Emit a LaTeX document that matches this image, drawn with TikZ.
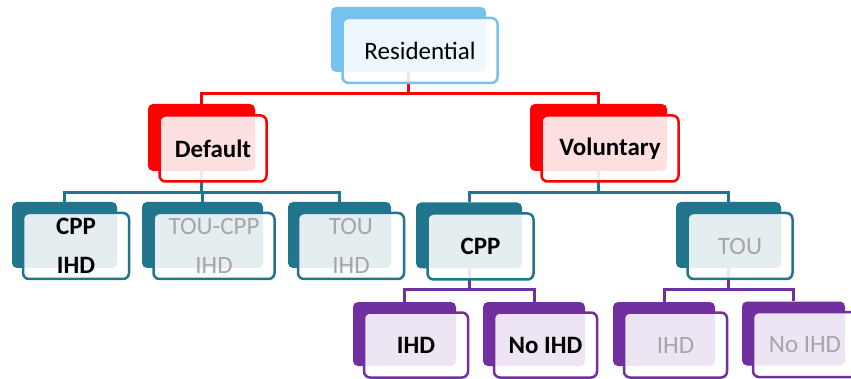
\documentclass[tikz,border=0pt]{standalone}
\usepackage{fontspec}
\setmainfont{Carlito}
\usetikzlibrary{backgrounds}

\definecolor{resblue}{RGB}{117,195,236}
\definecolor{topred}{RGB}{255,0,0}
\definecolor{midteal}{RGB}{33,117,140}
\definecolor{lowpurple}{RGB}{112,48,160}
\definecolor{offgray}{RGB}{166,166,166}

\begin{document}
\begin{tikzpicture}[
    x=1pt, y=-1pt,
    back/.style={fill=#1, rounded corners=5pt, inner sep=0pt, minimum height=66pt},
    front/.style={draw=#1, line width=2.5pt, rounded corners=6pt, fill=white,
      fill opacity=0.88, text opacity=1, inner sep=0pt, minimum height=66pt,
      xshift=11.5pt, yshift=-11pt, align=center, font=\fontsize{25}{39}\selectfont},
    link/.style={draw=#1, line width=3pt}
  ]
  \useasboundingbox (0,0) rectangle (851,379);

  % top level
  \node[back=resblue, minimum width=155pt, minimum height=65pt] (res) at (408.5,39.5) {};
  \node[front=resblue, minimum width=155pt, minimum height=65pt] (res-f) at (res) {Residential};

  % second level
  \node[back=topred, minimum width=107pt, minimum height=67pt] (def) at (201.5,137.5) {};
  \node[front=topred, minimum width=107pt] (def-f) at (def) {\textbf{Default}};
  \node[back=topred, minimum width=137pt, minimum height=67pt] (vol) at (598.5,137.5) {};
  \node[front=topred, minimum width=137pt] (vol-f) at (vol) {\textbf{Voluntary}};

  % third level
  \node[back=midteal, minimum width=105pt] (cppihd) at (64.5,235) {};
  \node[front=midteal, minimum width=106pt] (cppihd-f) at (cppihd) {\textbf{CPP}\\\textbf{IHD}};
  \node[back=midteal, minimum width=121pt] (toucpp) at (202.5,235) {};
  \node[front=midteal, minimum width=121pt, text=offgray] (toucpp-f) at (toucpp) {TOU-CPP\\IHD};
  \node[back=midteal, minimum width=103pt] (touihd) at (339.5,235) {};
  \node[front=midteal, minimum width=106pt, text=offgray] (touihd-f) at (touihd) {TOU\\IHD};
  \node[back=midteal, minimum width=106pt] (cpp) at (469,235.5) {};
  \node[front=midteal, minimum width=106pt] (cpp-f) at (cpp) {\textbf{CPP}};
  \node[back=midteal, minimum width=105pt] (tou) at (728.5,235) {};
  \node[front=midteal, minimum width=105pt, text=offgray] (tou-f) at (tou) {TOU};

  % fourth level
  \node[back=lowpurple, minimum width=103pt, minimum height=64pt] (ihd) at (404.5,334) {};
  \node[front=lowpurple, minimum width=104pt, minimum height=65pt] (ihd-f) at (ihd) {\textbf{IHD}};
  \node[back=lowpurple, minimum width=102pt, minimum height=64pt] (noihd) at (534,334) {};
  \node[front=lowpurple, minimum width=103pt, minimum height=65pt] (noihd-f) at (noihd) {\textbf{No IHD}};
  \node[back=lowpurple, minimum width=102pt, minimum height=64pt] (ihdg) at (664,334) {};
  \node[front=lowpurple, minimum width=103pt, minimum height=65pt, text=offgray] (ihdg-f) at (ihdg) {IHD};
  \node[back=lowpurple, minimum width=103pt, minimum height=64pt] (noihdg) at (793.5,333.5) {};
  \node[front=lowpurple, minimum width=104pt, minimum height=65pt, text=offgray] (noihdg-f) at (noihdg) {No IHD};

  % connectors behind the boxes
  \begin{scope}[on background layer]
    \draw[link=topred] (res.south) -- ++(0,21) coordinate (bus1);
    \draw[link=topred] (def.north) |- (bus1) -| (vol.north);

    \draw[link=midteal] (def.south) -- ++(0,21) coordinate (bus2);
    \draw[link=midteal] (cppihd.north) |- (bus2) -| (touihd.north);
    \draw[link=midteal] (toucpp.north) -- (toucpp.north |- bus2);
    \draw[link=midteal] (vol.south) -- ++(0,21) coordinate (bus3);
    \draw[link=midteal] (cpp.north) |- (bus3) -| (tou.north);

    \draw[link=lowpurple] (cpp.south) -- ++(0,21) coordinate (bus4);
    \draw[link=lowpurple] (ihd.north) |- (bus4) -| (noihd.north);
    \draw[link=lowpurple] (tou.south) -- ++(0,21) coordinate (bus5);
    \draw[link=lowpurple] (ihdg.north) |- (bus5) -| (noihdg.north);
  \end{scope}
\end{tikzpicture}
\end{document}
